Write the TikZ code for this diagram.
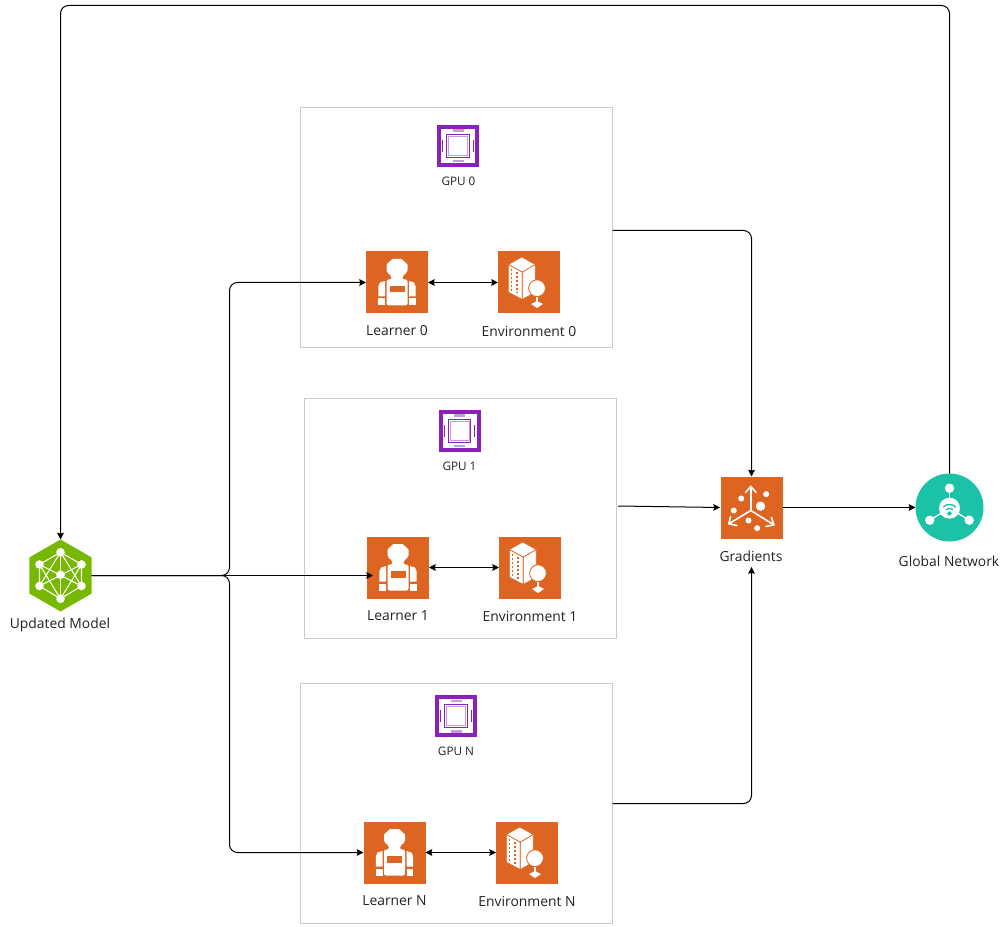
\documentclass[tikz,border=0pt]{standalone}
\usepackage{fontspec}
\setmainfont{Open Sans}
\usetikzlibrary{arrows.meta,shapes.geometric}
\definecolor{boxorange}{HTML}{DE6421}
\definecolor{gpupurple}{HTML}{8B21B8}
\definecolor{gpulilac}{HTML}{C79AE2}
\definecolor{modelgreen}{HTML}{76B900}
\definecolor{netteal}{HTML}{1CC2A6}
\definecolor{panelgray}{HTML}{CCCCCC}
\definecolor{labelgray}{HTML}{222222}
\tikzset{
	panel/.style = {draw=panelgray, line width=0.6pt, minimum width=234pt, minimum height=180pt, inner sep=0pt, outer sep=0pt},
	orangebox/.style = {fill=boxorange, minimum size=46.5pt, inner sep=0pt, outer sep=0pt},
	gpubox/.style = {draw=gpupurple, line width=3pt, fill=white, minimum size=28.5pt, inner sep=0pt, outer sep=1.5pt},
	modelhex/.style = {regular polygon, regular polygon sides=6, shape border rotate=30, fill=modelgreen, minimum size=54pt, inner sep=0pt, outer sep=0pt},
	netcircle/.style = {circle, fill=netteal, minimum size=51pt, inner sep=0pt, outer sep=0pt},
	lbl/.style = {align=center, inner sep=0pt, text=labelgray, font=\fontsize{10.4}{12}\selectfont},
	smalllbl/.style = {align=center, inner sep=0pt, text=labelgray, font=\fontsize{8.8}{10}\selectfont},
	conn/.style = {draw=black, line width=0.75pt, rounded corners=6pt, -{Stealth[length=5pt,width=5pt,inset=0.6pt]}},
	bothconn/.style = {conn, {Stealth[length=5pt,width=5pt,inset=0.6pt]}-{Stealth[length=5pt,width=5pt,inset=0.6pt]}},
	learnericon/.pic = {
		\fill[white, rounded corners=1.5pt] (-6.5,-23.5) -- (6.5,-23.5) -- (7,-19.5) -- (10.5,-19.5) -- (10.5,-10) -- (5.5,-7) -- (5.5,-3) -- (10.5,-3) -- (10.5,23) -- (-10.5,23) -- (-10.5,-3) -- (-5.5,-3) -- (-5.5,-7) -- (-10.5,-10) -- (-10.5,-19.5) -- (-7,-19.5) -- cycle;
		\fill[boxorange] (-7.5,3.5) rectangle (7.5,10);
		\fill[white] (-12,-1.5) -- (-12,14) -- (-18.7,14) -- (-18.7,4) -- (-17,0) -- cycle;
		\fill[white] (12,-1.5) -- (12,14) -- (18.7,14) -- (18.7,4) -- (17,0) -- cycle;
		\fill[white] (-18.7,16) rectangle (-12,23);
		\fill[white] (18.7,16) rectangle (12,23);
	},
	envicon/.pic = {
		\fill[white, draw=boxorange, line width=0.5pt, line join=round] (-7.3,-25.5) -- (6.3,-18) -- (-6.7,-10.3) -- (-20.7,-18) -- cycle;
		\fill[white, draw=boxorange, line width=0.5pt, line join=round] (-20.7,-18) -- (-6.7,-10.3) -- (-6.7,17) -- (-20.7,9.7) -- cycle;
		\fill[white, draw=boxorange, line width=0.5pt, line join=round] (-6.7,-10.3) -- (6.3,-18) -- (6.3,9.7) -- (-6.7,17) -- cycle;
		\draw[boxorange, line width=0.9pt, dash pattern=on 1.5pt off 1.5pt] (-17.5,-13.5) -- (-17.5,8.5);
		\draw[boxorange, line width=0.9pt, dash pattern=on 1.5pt off 1.5pt] (-12,-10.5) -- (-12,11);
		\fill[white] (6.8,13) rectangle (9.2,20);
		\fill[white, draw=boxorange, line width=0.6pt] (8,5.7) circle (8.4);
		\fill[white] (2,21.5) -- (8,18.5) -- (14,21.5) -- (8,25.5) -- cycle;
	},
	gpuicon/.pic = {
		\draw[gpulilac, line width=0.4pt] (-9.7,-9.7) rectangle (9.7,9.7);
		\draw[gpupurple, line width=0.6pt] (-11.3,-11.3) rectangle (11.3,11.3);
		\fill[gpulilac] (-5.5,-16.5) rectangle (5.5,-14.2);
		\fill[gpulilac] (-5.5,14.2) rectangle (5.5,16.5);
		\draw[gpupurple, line width=0.6pt] (-15.3,-6) -- (-15.3,6);
		\draw[gpupurple, line width=0.6pt] (15.3,-6) -- (15.3,6);
	},
	gradicon/.pic = {
		\draw[white, line width=1.2pt, line join=round, line cap=round] (-0.7,3) -- (-0.7,-21);
		\draw[white, line width=1.2pt, line join=round, line cap=round] (-0.7,3) -- (-22.7,16.3);
		\draw[white, line width=1.2pt, line join=round, line cap=round] (-0.7,3) -- (22.3,17.3);
		\draw[white, line width=1.2pt, line join=round, line cap=round] (-6,-15) -- (-0.7,-21) -- (4.6,-15);
		\draw[white, line width=1.2pt, line join=round, line cap=round] (-21,9) -- (-22.7,16.3) -- (-14.5,18);
		\draw[white, line width=1.2pt, line join=round, line cap=round] (20,10) -- (22.3,17.3) -- (14.5,19);
		\fill[white] (-10.3,-9) circle (3);
		\fill[white] (14.7,-13.3) circle (3);
		\fill[white] (9,-1.3) circle (4.7);
		\fill[white] (-17.7,3) circle (3);
		\fill[white] (-3,13) circle (3);
		\fill[white] (5.7,20.7) circle (3);
	},
	neticon/.pic = {
		\draw[white, line width=1pt] (0,-19.3) -- (0,0.7);
		\draw[white, line width=1pt] (-19.7,12.7) -- (0,0.7);
		\draw[white, line width=1pt] (19.7,12.7) -- (0,0.7);
		\fill[white] (0,-19.3) circle (4.7);
		\fill[white] (-19.7,12.7) circle (4.7);
		\fill[white] (19.7,12.7) circle (4.7);
		\fill[white] (0,0.7) circle (10.5);
		\fill[netteal] (0,6) circle (2.2);
		\draw[netteal, line width=1pt] (-3.7,2.3) arc (225:315:5.2);
		\draw[netteal, line width=1pt] (-6.4,-0.4) arc (225:315:9);
	},
	modelicon/.pic = {
		\draw[white, line width=0.8pt] (0,-23.3) -- (-21,-11) -- (-21,10.5) -- (0,23.3) -- (21,10.5) -- (21,-11) -- cycle;
		\draw[white, line width=0.8pt] (0,-23.3) -- (0,23.3);
		\draw[white, line width=0.8pt] (0,-23.3) -- (-21,10.5);
		\draw[white, line width=0.8pt] (0,-23.3) -- (21,10.5);
		\draw[white, line width=0.8pt] (0,23.3) -- (-21,-11);
		\draw[white, line width=0.8pt] (0,23.3) -- (21,-11);
		\draw[white, line width=0.8pt] (-21,-11) -- (21,10.5);
		\draw[white, line width=0.8pt] (-21,10.5) -- (21,-11);
		\fill[white] (0,-23.3) circle (4.3);
		\fill[white] (0,23.3) circle (4.3);
		\fill[white] (-21,-11) circle (4.3);
		\fill[white] (21,-11) circle (4.3);
		\fill[white] (-21,10.5) circle (4.3);
		\fill[white] (21,10.5) circle (4.3);
		\fill[white] (0,-0.7) circle (4.3);
	}
}

\begin{document}
\begin{tikzpicture}[x=0.75pt, y=-0.75pt]
\useasboundingbox (0,0) rectangle (1004,927);

\node [panel] (panel0) at (456.5,227.5) {};
\node [panel] (panel1) at (460,518.5) {};
\node [panel] (panelN) at (456.5,803.5) {};

% panel 0
\node [gpubox] (gpu0) at (458,146) {};
\pic at (gpu0) {gpuicon};
\node [smalllbl] (gpu0lbl) at (458.5,181.5) {GPU 0};
\node [orangebox] (learner0) at (397,282.5) {};
\pic at (learner0) {learnericon};
\node [lbl] (learner0lbl) at (397,331) {Learner 0};
\node [orangebox] (env0) at (529,282.5) {};
\pic at (env0) {envicon};
\node [lbl] (env0lbl) at (529,331) {Environment 0};

% panel 1
\node [gpubox] (gpu1) at (459.5,431) {};
\pic at (gpu1) {gpuicon};
\node [smalllbl] (gpu1lbl) at (459.5,466.5) {GPU 1};
\node [orangebox] (learner1) at (398,567.5) {};
\pic at (learner1) {learnericon};
\node [lbl] (learner1lbl) at (398,616) {Learner 1};
\node [orangebox] (env1) at (530,567.5) {};
\pic at (env1) {envicon};
\node [lbl] (env1lbl) at (530,616) {Environment 1};

% panel N
\node [gpubox] (gpuN) at (456,716) {};
\pic at (gpuN) {gpuicon};
\node [smalllbl] (gpuNlbl) at (456,751.5) {GPU N};
\node [orangebox] (learnerN) at (394.5,852.5) {};
\pic at (learnerN) {learnericon};
\node [lbl] (learnerNlbl) at (394.5,901) {Learner N};
\node [orangebox] (envN) at (527,852.5) {};
\pic at (envN) {envicon};
\node [lbl] (envNlbl) at (527,901) {Environment N};

\node [orangebox] (grad) at (751.5,507.5) {};
\pic at (grad) {gradicon};
\node [lbl] (gradlbl) at (751,556) {Gradients};

\node [netcircle] (global) at (949.5,507.5) {};
\pic at (global) {neticon};
\node [lbl] (globallbl) at (949,561) {Global Network};

\node [modelhex] (model) at (60.5,575.5) {};
\pic at (model) {modelicon};
\node [lbl] (modellbl) at (60,625) {Updated Model};

\coordinate (branch) at (229.5,575.5);
\coordinate (learner1in) at (373,575.5);
\coordinate (panel0out) at (612.5,230.5);
\coordinate (panel1out) at (618,506);
\coordinate (panelNout) at (612.5,803.5);
\coordinate (gradin) at (720,507.5);
\coordinate (gradunder) at (751.5,567);
\coordinate (topleft) at (60.5,5.5);
\coordinate (topright) at (949.5,5.5);

\draw [conn] (global.north) -- (topright) -- (topleft) -- (model.north);
\draw [conn] (model.east) -- (branch) -- (branch |- learner0) -- (learner0.west);
\draw [conn] (model.east) -- (learner1in);
\draw [conn] (model.east) -- (branch) -- (branch |- learnerN) -- (learnerN.west);
\draw [bothconn] (learner0.east) -- (env0.west);
\draw [bothconn] (learner1.east) -- (env1.west);
\draw [bothconn] (learnerN.east) -- (envN.west);
\draw [conn] (panel0out) -- (panel0out -| grad) -- (grad.north);
\draw [conn] (panel1out) -- (gradin);
\draw [conn] (panelNout) -- (panelNout -| grad) -- (gradunder);
\draw [conn] (grad.east) -- (global.west);
\end{tikzpicture}
\end{document}
